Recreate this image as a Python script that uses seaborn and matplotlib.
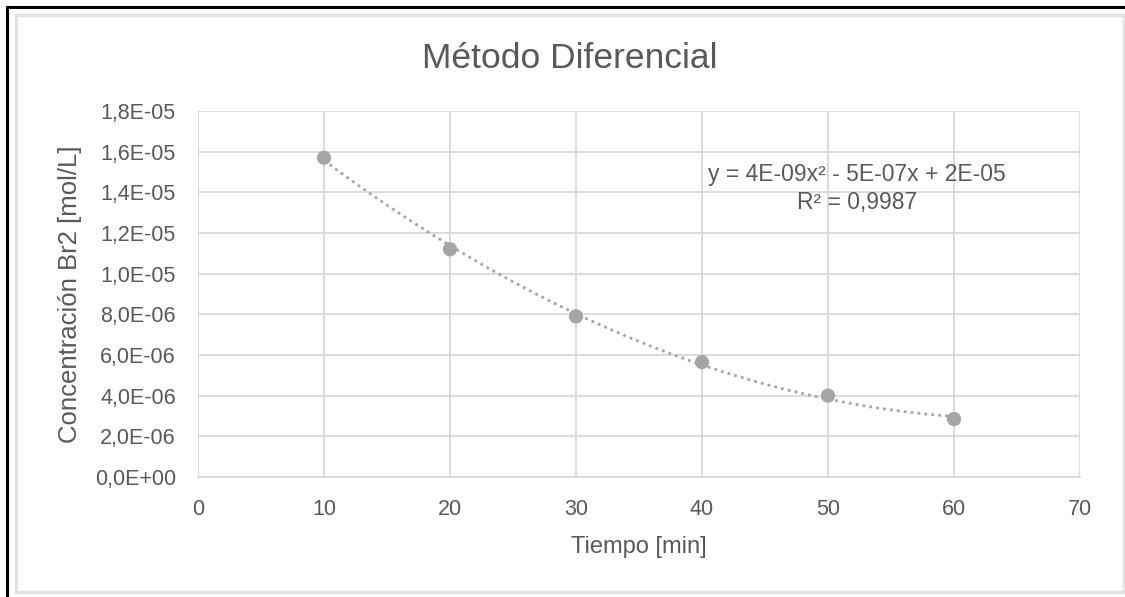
import numpy as np
import matplotlib
matplotlib.use("Agg")
import matplotlib.pyplot as plt
from matplotlib.ticker import FuncFormatter, MultipleLocator
from matplotlib.patches import Rectangle
from matplotlib.lines import Line2D
import seaborn as sns

# Measured concentration of Br2 over time
tiempo = [10, 20, 30, 40, 50, 60]
concentracion = [1.57e-05, 1.12e-05, 7.9e-06, 5.65e-06, 4.0e-06, 2.85e-06]

titulo = "Método Diferencial"
etiqueta_x = "Tiempo [min]"
etiqueta_y = "Concentración Br2 [mol/L]"
ecuacion = "y = 4E-09x² - 5E-07x + 2E-05"
r2_texto = "R² = 0,9987"

sns.set_theme(style="white")
plt.rcParams["font.family"] = ["Liberation Sans", "DejaVu Sans"]

TEXT = "#595959"
GRID = "#d9d9d9"
MARK = "#a5a5a5"

fig = plt.figure(figsize=(11.25, 5.97), dpi=100)
fig.patch.set_facecolor("white")
ax = fig.add_axes([198 / 1125, 1 - 477 / 597, (1080 - 198) / 1125, (477 - 111) / 597])

# Quadratic trendline fitted to the measurements
coef = np.polyfit(tiempo, concentracion, 2)
xs = np.linspace(min(tiempo), max(tiempo), 200)
ax.plot(xs, np.polyval(coef, xs), linestyle=(0, (1, 1.5)), color=MARK, linewidth=2, zorder=2)

sns.scatterplot(x=tiempo, y=concentracion, ax=ax, color=MARK, s=105,
                edgecolor="none", zorder=3)

ax.set_xlim(0, 70)
ax.set_ylim(0, 1.8e-05)
ax.xaxis.set_major_locator(MultipleLocator(10))
ax.yaxis.set_major_locator(MultipleLocator(2e-06))


def fmt_sci(v, pos):
    return f"{v:.1E}".replace(".", ",")


ax.yaxis.set_major_formatter(FuncFormatter(fmt_sci))
ax.xaxis.set_major_formatter(FuncFormatter(lambda v, p: f"{v:.0f}"))

ax.grid(True, color=GRID, linewidth=1.3)
ax.set_axisbelow(True)
for side in ["top", "right", "left"]:
    ax.spines[side].set_visible(False)
ax.spines["bottom"].set_color(GRID)
ax.spines["bottom"].set_linewidth(1.3)
ax.tick_params(axis="both", length=0, colors=TEXT, labelsize=15.5)
ax.tick_params(axis="x", pad=15.5)
ax.tick_params(axis="y", pad=16)

ax.set_xlabel(etiqueta_x, color=TEXT, fontsize=17, labelpad=12)
ax.set_ylabel(etiqueta_y, color=TEXT, fontsize=18.5, labelpad=9)

fig.text(570 / 1125, 1 - 59 / 597, titulo, ha="center", va="center",
         color=TEXT, fontsize=25.5)

ax.text(52.3, 1.49e-05, ecuacion, ha="center", va="center", color=TEXT, fontsize=16.5)
ax.text(52.3, 1.352e-05, r2_texto, ha="center", va="center", color=TEXT, fontsize=16.5)

# Frame around the chart
fig.add_artist(Rectangle((15.5 / 1125, 1 - 592 / 597), (1124 - 15.5) / 1125, (592 - 14.5) / 597,
                         transform=fig.transFigure, fill=False, edgecolor="#e3e3e3",
                         linewidth=2.5))
fig.add_artist(Line2D([6.5 / 1125, 1], [1 - 6.5 / 597, 1 - 6.5 / 597],
                      transform=fig.transFigure, color="black", linewidth=2.2))
fig.add_artist(Line2D([6.5 / 1125, 6.5 / 1125], [0, 1 - 6.5 / 597],
                      transform=fig.transFigure, color="black", linewidth=2.2))

fig.savefig("out.png", dpi=100, facecolor="white")
